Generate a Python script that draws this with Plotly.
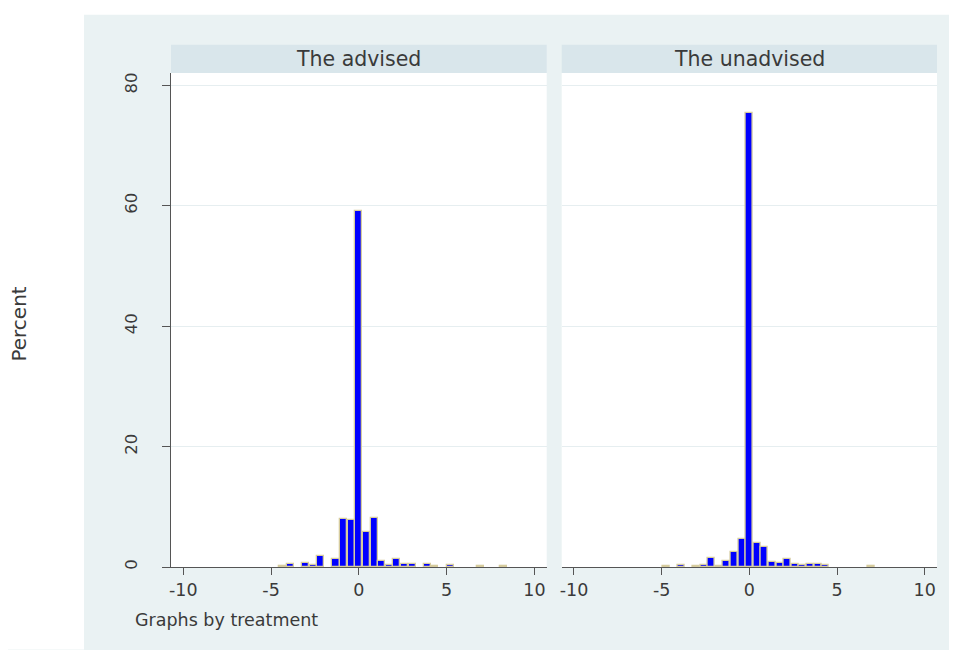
import plotly.graph_objects as go

# Histogram bins (bin centers, bin width ~0.433) and percent heights
bin_width = 0.4333

advised_x = [-4.333, -3.9, -3.033, -2.6, -2.167, -1.3, -0.867, -0.433, 0.0, 0.433,
             0.867, 1.3, 1.733, 2.167, 2.6, 3.033, 3.9, 4.333, 5.2, 6.933, 8.233]
advised_pct = [0.15, 0.55, 0.7, 0.4, 1.8, 1.3, 8.0, 7.8, 59.1, 5.8,
               8.2, 1.0, 0.4, 1.4, 0.5, 0.5, 0.5, 0.15, 0.3, 0.2, 0.2]

unadvised_x = [-4.767, -3.9, -3.033, -2.6, -2.167, -1.733, -1.3, -0.867, -0.433, 0.0,
               0.433, 0.867, 1.3, 1.733, 2.167, 2.6, 3.033, 3.467, 3.9, 4.333, 6.933]
unadvised_pct = [0.2, 0.4, 0.2, 0.4, 1.5, 0.1, 0.95, 2.5, 4.6, 75.4,
                 4.0, 3.4, 0.8, 0.6, 1.4, 0.5, 0.3, 0.5, 0.5, 0.3, 0.15]

panel_titles = ["The advised", "The unadvised"]
x_ticks = [-10, -5, 0, 5, 10]
x_tick_labels = ["-10", "-5", "0", "5", "10"]
y_ticks = [0, 20, 40, 60, 80]

FONT = "DejaVu Sans, sans-serif"
TXT = "#3a3a3a"
BAR_FILL = "#0000FF"
BAR_LINE = "#D6CC9E"
OUTER_BG = "#EAF2F3"
STRIP_BG = "#D9E6EB"
GRID = "#E6EEF0"
AXIS = "#555555"

OFF = 8  # page body margin in the browser
PAGE_W, PAGE_H = 957, 650
W, H = PAGE_W - OFF, PAGE_H - OFF
# target plot-area edges in page pixels
PL, PR, PT, PB = 171, 937, 73.3, 567.5
ml = PL - OFF
mt = PT - OFF
mr = W - (PR - OFF)
mb = H - (PB - OFF)
pw = W - ml - mr
ph = H - mt - mb

def px_to_paper_x(px):
    return (px - OFF - ml) / pw

def px_to_paper_y(py):
    return (H - mb - (py - OFF)) / ph

fig = go.Figure()
fig.add_trace(go.Bar(x=advised_x, y=advised_pct, width=[bin_width * 0.93] * len(advised_x),
                     marker=dict(color=BAR_FILL, line=dict(color=BAR_LINE, width=1.3)),
                     xaxis="x", yaxis="y", showlegend=False))
fig.add_trace(go.Bar(x=unadvised_x, y=unadvised_pct, width=[bin_width * 0.93] * len(unadvised_x),
                     marker=dict(color=BAR_FILL, line=dict(color=BAR_LINE, width=1.3)),
                     xaxis="x2", yaxis="y2", showlegend=False))

d1 = [0, px_to_paper_x(546.7)]
d2 = [px_to_paper_x(561.7), 1]

xcommon = dict(range=[-10.7, 10.7], tickvals=x_ticks, ticktext=x_tick_labels,
               ticks="outside", ticklen=7,
               tickcolor=AXIS, showline=True, linecolor=AXIS, linewidth=1,
               showgrid=False, zeroline=False,
               tickfont=dict(family=FONT, size=17.5, color=TXT))
fig.update_layout(
    width=W, height=H,
    margin=dict(l=ml, r=mr, t=mt, b=mb),
    paper_bgcolor=OUTER_BG, plot_bgcolor="white",
    barmode="overlay", bargap=0,
    xaxis=dict(domain=d1, anchor="y", **xcommon),
    xaxis2=dict(domain=d2, anchor="y2", **xcommon),
    yaxis=dict(range=[0, 82.06], tickvals=y_ticks, ticks="outside", ticklen=8,
               tickcolor=AXIS, showline=True, linecolor=AXIS, linewidth=1,
               showgrid=True, gridcolor=GRID, gridwidth=1, zeroline=False,
               tickangle=-90, ticklabelstandoff=18,
               tickfont=dict(family=FONT, size=16.5, color=TXT), anchor="x"),
    yaxis2=dict(range=[0, 82.06], tickvals=y_ticks, showticklabels=False, ticks="",
                showline=False, showgrid=True, gridcolor=GRID, gridwidth=1,
                zeroline=False, anchor="x2", matches="y"),
)

shapes = []
# white page outside the graph region (left band and top band)
shapes.append(dict(type="rect", xref="paper", yref="paper",
                   x0=px_to_paper_x(OFF), x1=px_to_paper_x(84), y0=px_to_paper_y(PAGE_H), y1=px_to_paper_y(OFF),
                   fillcolor="white", line=dict(width=0), layer="below"))
shapes.append(dict(type="rect", xref="paper", yref="paper",
                   x0=px_to_paper_x(OFF), x1=px_to_paper_x(PAGE_W), y0=px_to_paper_y(15), y1=px_to_paper_y(OFF),
                   fillcolor="white", line=dict(width=0), layer="below"))
# strips
for d in (d1, d2):
    shapes.append(dict(type="rect", xref="paper", yref="paper",
                       x0=d[0], x1=d[1], y0=1, y1=px_to_paper_y(45),
                       fillcolor=STRIP_BG, line=dict(width=0), layer="below"))
fig.update_layout(shapes=shapes)

ann = []
for d, t in zip((d1, d2), panel_titles):
    ann.append(dict(text=t, xref="paper", yref="paper", x=(d[0] + d[1]) / 2,
                    y=px_to_paper_y(59.5), xanchor="center", yanchor="middle",
                    showarrow=False, font=dict(family=FONT, size=20.5, color=TXT)))
ann.append(dict(text="Percent", xref="paper", yref="paper", x=px_to_paper_x(19),
                y=px_to_paper_y(325), xanchor="center", yanchor="middle", textangle=-90,
                showarrow=False, font=dict(family=FONT, size=20, color=TXT)))
ann.append(dict(text="Graphs by treatment", xref="paper", yref="paper", x=px_to_paper_x(133),
                y=px_to_paper_y(621), xanchor="left", yanchor="middle",
                showarrow=False, font=dict(family=FONT, size=17.5, color=TXT)))
fig.update_layout(annotations=ann)

fig.write_html("out.html")
